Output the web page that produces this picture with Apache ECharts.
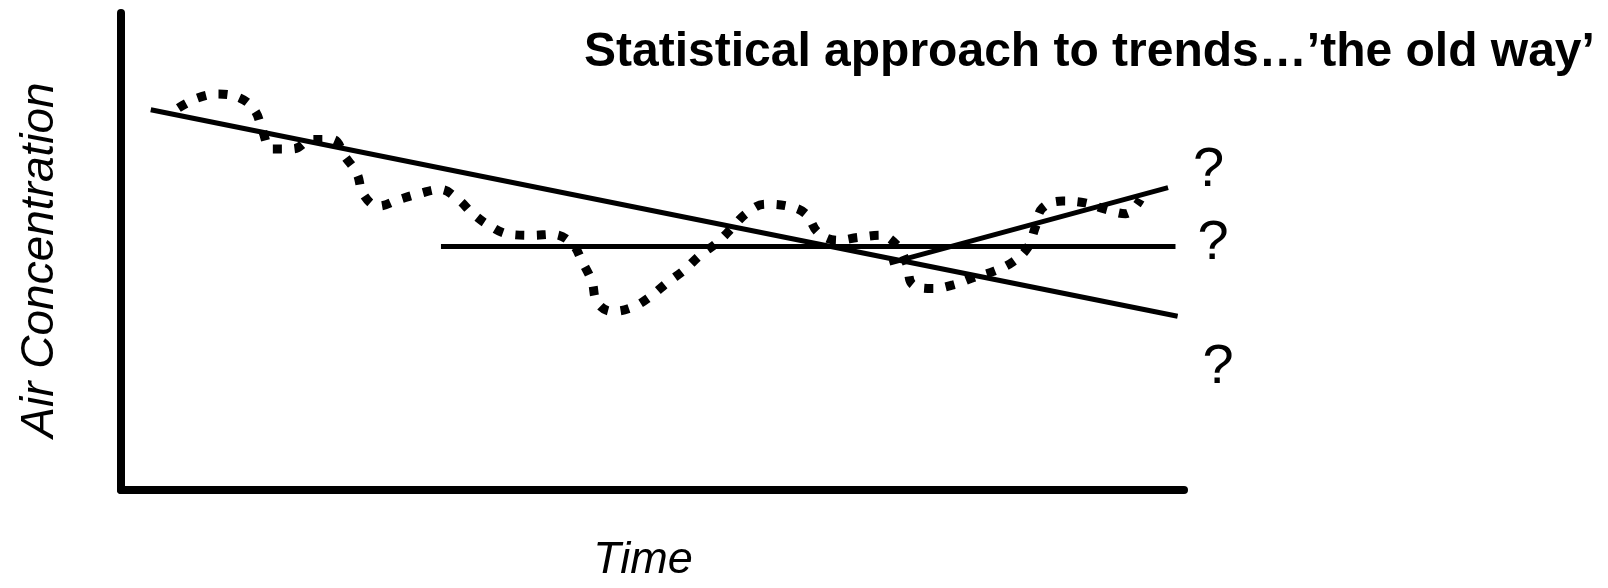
<!DOCTYPE html>
<html>
<head>
<meta charset="utf-8">
<script src="https://cdn.jsdelivr.net/npm/echarts@6/dist/echarts.min.js"></script>
<style>
html,body{margin:0;padding:0;background:#fff;}
#chart{width:1608px;height:588px;}
</style>
</head>
<body>
<div id="chart"></div>
<script>
// Observed (dotted) concentration curve
var timeCurve = [5.4,7.2,9.1,11.2,12.6,13.3,14.2,16.2,18.0,19.9,21.1,22.2,22.8,24.2,26.2,28.1,30.0,31.7,33.1,34.7,36.6,38.7,40.6,42.4,43.4,44.3,44.8,46.2,48.1,49.8,51.4,53.0,54.5,56.1,57.5,58.9,60.6,62.7,64.4,65.6,67.4,69.3,71.4,73.0,73.9,74.5,76.4,78.3,80.2,82.2,83.9,85.3,86.0,86.7,88.6,90.7,92.6,94.5,95.9];
var concCurve = [84.9,87.1,88.0,87.1,84.3,79.9,75.8,75.8,77.9,77.9,74.0,70.3,65.7,63.1,64.6,65.9,66.8,64.6,61.4,58.7,56.8,56.6,56.8,54.8,50.7,46.3,41.7,39.7,40.6,43.0,46.1,48.9,52.2,55.0,58.3,61.6,63.5,63.1,61.4,57.2,55.5,56.1,56.6,54.4,50.4,45.6,44.8,45.6,47.2,48.7,50.7,53.9,58.3,62.7,64.2,63.8,62.4,61.4,64.6];

// Straight trend lines
var declineTime = [2.8, 99.4];
var declineConc = [84.5, 38.6];
var flatTime = [30.1, 99.2];
var flatConc = [54.1, 54.1];
var riseTime = [72.3, 98.5];
var riseConc = [50.4, 67.2];

// Texts
var titleText = "Statistical approach to trends\u2026\u2019the old way\u2019";
var xName = "Time";
var yName = "Air Concentration";
var endMark = "?";

function pairs(xs, ys) { return xs.map(function (x, i) { return [x, ys[i]]; }); }

var FONT = "'Liberation Sans', Arial, Helvetica, sans-serif";

function trend(name, xs, ys, offset) {
  return {
    name: name,
    type: 'line',
    data: pairs(xs, ys),
    showSymbol: false,
    symbol: 'none',
    silent: true,
    lineStyle: { color: '#000', width: 5, cap: 'butt' },
    endLabel: {
      show: true,
      formatter: endMark,
      color: '#000',
      fontFamily: FONT,
      fontSize: 56,
      offset: offset
    },
    z: 3
  };
}

var chart = echarts.init(document.getElementById('chart'), null, { renderer: 'canvas' });
chart.setOption({
  animation: false,
  backgroundColor: '#fff',
  title: {
    text: titleText,
    left: 584,
    top: 29,
    padding: 0,
    textStyle: { fontFamily: FONT, fontSize: 48, fontWeight: 'bold', color: '#000' }
  },
  grid: { left: 121, right: 424, top: 13, bottom: 89, containLabel: false },
  xAxis: {
    type: 'value', min: 0, max: 100,
    name: xName, nameLocation: 'middle', nameGap: 48,
    nameTextStyle: { fontFamily: FONT, fontSize: 45, fontStyle: 'italic', color: '#000', padding: [0, 19, 0, 0] },
    axisLine: { show: true, onZero: false, lineStyle: { color: '#000', width: 8 } },
    axisTick: { show: false }, axisLabel: { show: false }, splitLine: { show: false }
  },
  yAxis: {
    type: 'value', min: 0, max: 106,
    name: yName, nameLocation: 'middle', nameGap: 58, nameRotate: 90,
    nameTextStyle: { fontFamily: FONT, fontSize: 46, fontStyle: 'italic', color: '#000', padding: [0, 17, 0, 0] },
    axisLine: { show: true, onZero: false, lineStyle: { color: '#000', width: 8 } },
    axisTick: { show: false }, axisLabel: { show: false }, splitLine: { show: false }
  },
  series: [
    {
      name: 'observed',
      type: 'line',
      data: pairs(timeCurve, concCurve),
      smooth: 0.4,
      showSymbol: false,
      symbol: 'none',
      silent: true,
      lineStyle: { color: '#000', width: 9, type: [9, 12.5], cap: 'butt' },
      z: 2
    },
    trend('decline', declineTime, declineConc, [17, 51]),
    trend('flat', flatTime, flatConc, [14, -3]),
    trend('rise', riseTime, riseConc, [17, -17])
  ]
});
</script>
</body>
</html>
